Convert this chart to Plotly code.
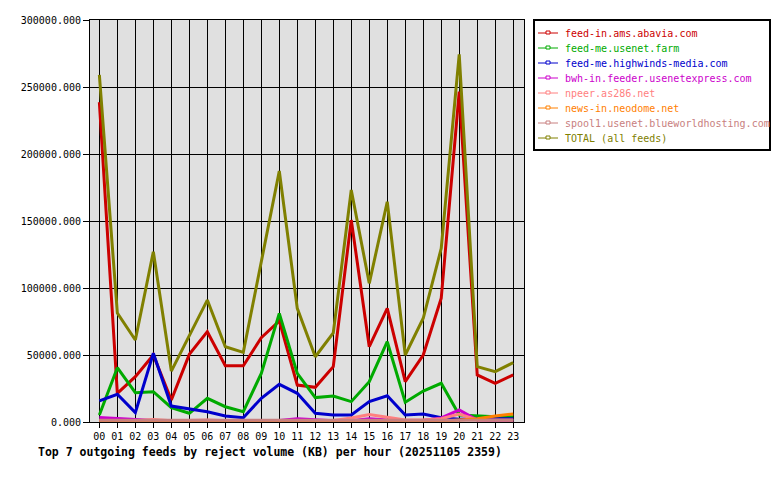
import plotly.graph_objects as go

hours = [f"{h:02d}" for h in range(24)]

feed_names = [
    "feed-in.ams.abavia.com",
    "feed-me.usenet.farm",
    "feed-me.highwinds-media.com",
    "bwh-in.feeder.usenetexpress.com",
    "npeer.as286.net",
    "news-in.neodome.net",
    "spool1.usenet.blueworldhosting.com",
    "TOTAL (all feeds)",
]
feed_colors = ["#cc0000", "#00aa00", "#0000cc", "#cc00cc", "#ff8080", "#ff8000", "#c88080", "#808000"]

abavia = [238600, 21400, 33800, 50000, 16400, 50500, 67400, 42000, 42000, 62900, 75400, 27600,
          25900, 41300, 150700, 56200, 84800, 30100, 50000, 92300, 246500, 35100, 28900, 35100]
usenet_farm = [5200, 40500, 21900, 22600, 10700, 6500, 17700, 11400, 7700, 36300, 81100, 36300,
               18200, 19400, 15200, 30100, 59900, 14700, 23100, 28900, 5200, 4500, 4000, 4000]
highwinds = [15700, 20700, 7000, 51300, 11900, 9700, 7700, 4500, 3200, 17700, 28100, 21400,
             6500, 5200, 5200, 15200, 19600, 5200, 6000, 3200, 2000, 2500, 2500, 2500]
bwh = [3300, 2500, 1500, 1200, 1000, 1000, 800, 800, 800, 1000, 1200, 2500,
       1500, 1000, 1000, 2500, 1500, 1000, 1200, 3000, 9000, 1500, 1200, 1200]
npeer = [1200, 1000, 1000, 1800, 1000, 1200, 1500, 1000, 1000, 1200, 1500, 1500,
         1200, 1200, 3000, 5500, 3500, 1500, 1500, 2500, 6000, 1500, 1500, 1500]
neodome = [500, 500, 500, 500, 500, 500, 500, 500, 500, 500, 500, 500,
           500, 500, 500, 500, 500, 500, 500, 500, 1500, 2500, 4500, 6000]
spool1 = [1300, 1300, 1300, 1300, 1300, 1300, 1300, 1300, 1300, 1300, 1300, 1300,
          1300, 1300, 1300, 1300, 1300, 1300, 1300, 1300, 1800, 1400, 1300, 1300]
total = [259000, 81300, 61200, 127100, 38000, 65000, 91000, 56200, 52000, 119600, 187300, 84800,
         48700, 66400, 173100, 103500, 164400, 50000, 77400, 129600, 274400, 41300, 37600, 44300]

series = [abavia, usenet_farm, highwinds, bwh, npeer, neodome, spool1, total]

W, H = 780, 480
PL, PR, PT, PB = 90, 524, 20, 422


def px(x):
    return (x - PL) / (PR - PL)


def py(y):
    return (PB - y) / (PB - PT)


fig = go.Figure()
for name, color, vals in zip(feed_names, feed_colors, series):
    fig.add_trace(go.Scatter(x=list(range(24)), y=vals, mode="lines", name=name,
                             line=dict(color=color, width=3), showlegend=False))

shapes = []
annotations = []
# legend box
shapes.append(dict(type="rect", xref="paper", yref="paper", x0=px(534), x1=px(770), y0=py(20), y1=py(150),
                   line=dict(color="black", width=2), fillcolor="white", layer="below"))
for i, (name, color) in enumerate(zip(feed_names, feed_colors)):
    yy = 33 + 15 * i
    shapes.append(dict(type="line", xref="paper", yref="paper", x0=px(538), x1=px(558), y0=py(yy), y1=py(yy),
                       line=dict(color=color, width=1)))
    shapes.append(dict(type="rect", xref="paper", yref="paper", x0=px(546), x1=px(550), y0=py(yy + 1), y1=py(yy - 2),
                       line=dict(color=color, width=1), fillcolor="white"))
    annotations.append(dict(x=px(563), y=py(yy), xref="paper", yref="paper", text=name, showarrow=False,
                            xanchor="left", yanchor="middle",
                            font=dict(family="DejaVu Sans Mono", size=10, color=color)))

annotations.append(dict(x=px(36), y=py(452), xref="paper", yref="paper",
                        text="<b>Top 7 outgoing feeds by reject volume (KB) per hour (20251105 2359)</b>",
                        showarrow=False, xanchor="left", yanchor="middle",
                        font=dict(family="DejaVu Sans Mono", size=11.5, color="black")))

fig.update_layout(
    width=W, height=H,
    margin=dict(l=PL, r=W - PR, t=PT, b=H - PB, pad=0),
    paper_bgcolor="white", plot_bgcolor="#e0e0e0",
    shapes=shapes, annotations=annotations,
    showlegend=False,
    font=dict(family="DejaVu Sans Mono", size=10, color="black"),
)
fig.update_xaxes(range=[-0.52, 23.6], tickvals=list(range(24)), ticktext=hours,
                 showgrid=True, gridcolor="black", gridwidth=1, zeroline=False,
                 showline=True, linecolor="black", linewidth=1, mirror=True,
                 ticks="outside", ticklen=5, tickcolor="black", tickangle=0,
                 tickfont=dict(family="DejaVu Sans Mono", size=10))
fig.update_yaxes(range=[0, 300000], tickvals=[0, 50000, 100000, 150000, 200000, 250000, 300000],
                 tickformat=".3f",
                 showgrid=True, gridcolor="black", gridwidth=1, zeroline=False,
                 showline=True, linecolor="black", linewidth=1, mirror=True,
                 ticks="outside", ticklen=6, tickcolor="black",
                 tickfont=dict(family="DejaVu Sans Mono", size=10))

fig.write_html("out.html")
